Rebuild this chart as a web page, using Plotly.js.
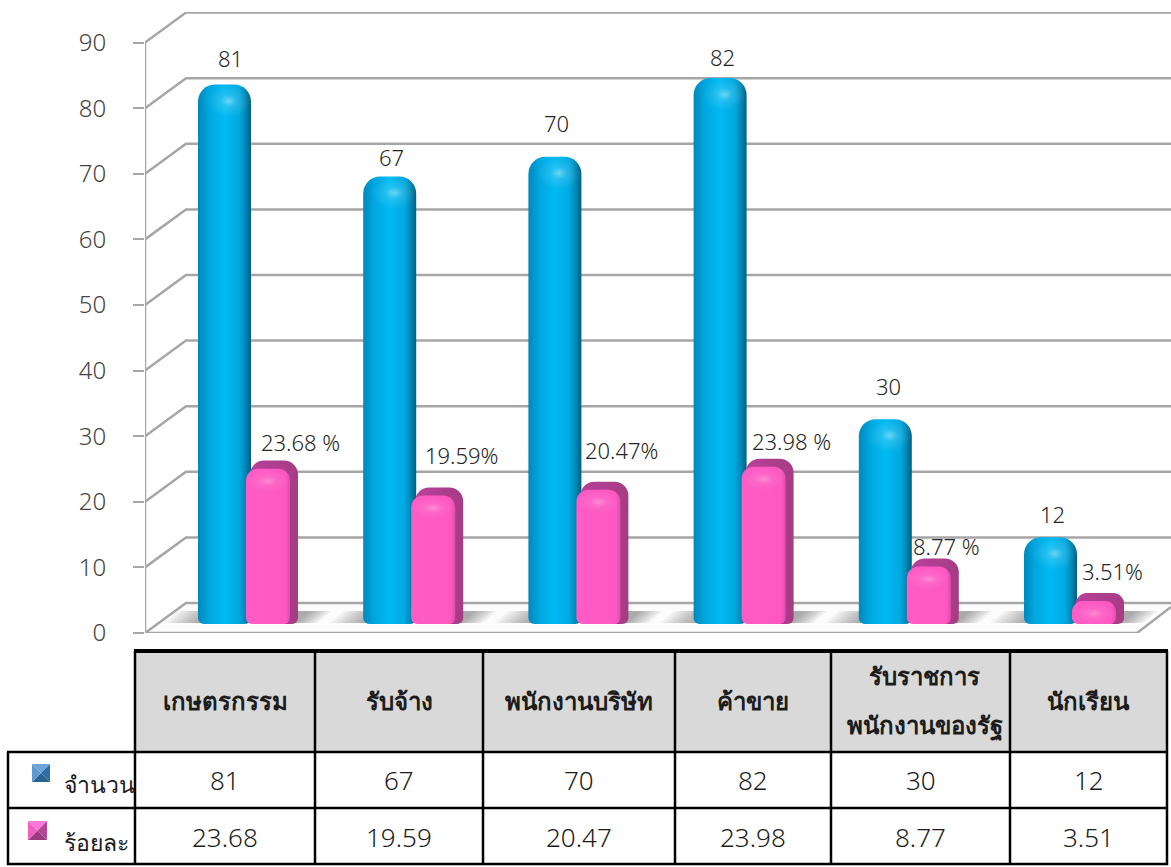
<!DOCTYPE html>
<html>
<head>
<meta charset="utf-8">
<script src="https://cdn.plot.ly/plotly-3.0.1.min.js"></script>
<style>html,body{margin:0;padding:0;background:#fff}</style>
</head>
<body>
<div id="chart" style="width:1171px;height:867px"></div>
<script>
// Occupation breakdown: respondent counts and their share of the total.
const categories = ['เกษตรกรรม', 'รับจ้าง', 'พนักงานบริษัท', 'ค้าขาย', 'รับราชการ<br>พนักงานของรัฐ', 'นักเรียน'];
const countValues = [81, 67, 70, 82, 30, 12];
const percentValues = [23.68, 19.59, 20.47, 23.98, 8.77, 3.51];
const percentLabels = ['23.68 %', '19.59%', '20.47%', '23.98 %', '8.77 %', '3.51%'];
const percentCells = ['23.68', '19.59', '20.47', '23.98', '8.77', '3.51'];
const seriesNames = ['จำนวน', 'ร้อยละ'];
const yTicks = [0, 10, 20, 30, 40, 50, 60, 70, 80, 90];

// Page-pixel layout
const W = 1171, H = 867;
const plotL = 145, plotT = 12, plotB = 633;
const groupPx = 165.2, firstCentrePx = 248;
const pxPerUnit = 6.56;
const xIdx = categories.map((_, i) => i);
const px2x = p => p / groupPx;
const px2y = p => p / pxPerUnit;
const xMin = (plotL - firstCentrePx) / groupPx;
const xMax = xMin + (W - plotL) / groupPx;
const yMax = (plotB - plotT) / pxPerUnit;
const depthX = px2x(41), depthY = px2y(30);
const topBase = 2.6, frontBase = 1.37;
const gridColour = '#a6a6a6';

const PX = p => p / W, PY = p => 1 - p / H;
const shapes = [], annotations = [];

// Floor plane
shapes.push({type: 'path', xref: 'x', yref: 'y', layer: 'below', line: {width: 0}, fillcolor: '#fcfcfc',
  path: `M ${xMin} 0 L ${xMin + depthX} ${depthY} L ${xMax} ${depthY} L ${xMax - px2x(34)} 0 Z`});

// Wall and floor grid lines, each running from the front edge to the back wall
yTicks.forEach(v => {
  shapes.push({type: 'path', xref: 'x', yref: 'y', layer: 'below', line: {color: gridColour, width: 2.5},
    path: `M ${xMin} ${v} L ${xMin + depthX} ${v + depthY} L ${xMax} ${v + depthY}`});
});
const frameLine = (x0, y0, x1, y1) => shapes.push({type: 'line', xref: 'x', yref: 'y', layer: 'below',
  line: {color: gridColour, width: 2.5}, x0, x1, y0, y1});
frameLine(xMin, 0, xMax - px2x(34), 0);
frameLine(xMax - px2x(34), 0, xMax, px2y(26));
frameLine(xMin, 0, xMin, 90);

// Soft floor shadow behind each group, built from nested translucent bands
xIdx.forEach(i => {
  for (let k = 0; k < 12; k++) {
    const x0 = i + px2x(-84 + k * 3), x1 = i + px2x(70 - k * 2);
    const y0 = px2y(10), y1 = px2y(22);
    shapes.push({type: 'path', xref: 'x', yref: 'y', layer: 'below', line: {width: 0},
      fillcolor: 'rgba(60,60,60,0.04)',
      path: `M ${x0} ${y0} L ${x0 + px2x(14)} ${y1} L ${x1 + px2x(14)} ${y1} L ${x1} ${y0} Z`});
  }
});

// Bars: body, square-ended foot and a soft highlight for each series.
// Plotly rounds both ends of a bar with a base, so a foot covers the lower corners.
const bar = (values, base, offPx, widthPx, radius, colour, name) => ({
  type: 'bar', x: xIdx, y: values, base: base, name: name,
  offset: px2x(offPx), width: px2x(widthPx),
  marker: {color: colour, line: {width: 0}, cornerradius: radius},
  hoverinfo: 'skip', showlegend: false
});
const footHeight = 4.13;
const foot = xIdx.map(() => footHeight);
const traces = [
  bar(countValues, topBase, -50, 53, 17, '#00b4ec', 'count'),
  bar(foot, frontBase, -50, 53, 6, '#00b4ec', 'count-foot'),
  bar(xIdx.map(() => 5), countValues.map(v => v + topBase - 5), -42, 46, 0, '#ffffff', 'count-glow'),
  bar(percentValues, topBase, 2, 48, 14, '#b03c8a', 'percent-back'),
  bar(foot, frontBase, 2, 48, 6, '#b03c8a', 'percent-back-foot'),
  bar(percentValues, frontBase, -2, 44, 12, '#ff5ac6', 'percent'),
  bar(xIdx.map(() => 2.4), frontBase, -2, 44, 6, '#ff5ac6', 'percent-foot'),
  bar(xIdx.map(() => 3.4), percentValues.map(v => v + frontBase - 3.6), -2, 44, 0, '#ffffff', 'percent-glow')
];

// Value labels above the bars
const labelFont = {family: 'Noto Sans, DejaVu Sans, sans-serif', size: 22, color: '#242424', weight: 300};
const countShift = [[-18, 26.6], [-22, 19.5], [-22, 33.8], [-21, 21], [-20, 33], [-22, 23]];
const pctShift = [[52, 18.7], [48, 32.5], [43, 31.7], [48, 17.7], [38, 12.5], [38, 22]];
xIdx.forEach(i => {
  annotations.push({xref: 'x', yref: 'y', x: i, y: countValues[i] + topBase, text: String(countValues[i]),
    showarrow: false, xshift: countShift[i][0], yshift: countShift[i][1], font: labelFont});
  annotations.push({xref: 'x', yref: 'y', x: i, y: percentValues[i] + topBase, text: percentLabels[i],
    showarrow: false, xshift: pctShift[i][0], yshift: pctShift[i][1], font: labelFont});
});

// Data table below the plot
const colEdges = [135, 315, 483, 675, 831, 1010, 1167];
const rule = (x0, y0, x1, y1, w) => shapes.push({type: 'line', xref: 'paper', yref: 'paper',
  x0: PX(x0), x1: PX(x1), y0: PY(y0), y1: PY(y1), line: {color: '#000', width: w}});
shapes.push({type: 'rect', xref: 'paper', yref: 'paper', x0: PX(135), x1: PX(1167), y0: PY(651), y1: PY(752),
  line: {width: 0}, fillcolor: '#d9d9d9'});
colEdges.forEach(x => rule(x, 651, x, 865, 2.5));
rule(134, 651, 1168, 651, 4);
rule(7, 752, 1168, 752, 2.5);
rule(7, 808, 1168, 808, 2.5);
rule(7, 864, 1168, 864, 2.5);
rule(8, 752, 8, 865, 2.5);

const tableFont = 'Noto Sans, DejaVu Sans, sans-serif';
const tableText = (cx, cy, text, size, bold, anchor, weight) => annotations.push({xref: 'paper', yref: 'paper',
  x: PX(cx), y: PY(cy), text: bold ? `<b>${text}</b>` : text, showarrow: false, xanchor: anchor || 'center', yanchor: 'middle',
  font: {family: tableFont, size: size, color: '#1c1c1c', weight: weight || (bold ? 700 : 300)}});
categories.forEach((c, i) => {
  const cx = (colEdges[i] + colEdges[i + 1]) / 2;
  const lines = c.split('<br>');
  lines.forEach((t, k) => tableText(cx + (lines.length > 1 ? 4 : 0), 700 + (k - (lines.length - 1) / 2) * 50, t, 24, true));
  tableText(cx, 780, String(countValues[i]), 26, false);
  tableText(cx, 837, percentCells[i], 26, false);
});
tableText(62, 784, seriesNames[0], 23, false, 'left', 400);
tableText(62, 842, seriesNames[1], 23, false, 'left', 400);

// Bevelled legend keys
const key = (x, y, s, cols) => {
  const cx = x + s / 2, cy = y + s / 2;
  const tri = [[x, y, x + s, y], [x + s, y, x + s, y + s], [x + s, y + s, x, y + s], [x, y + s, x, y]];
  tri.forEach((t, k) => shapes.push({type: 'path', xref: 'paper', yref: 'paper', line: {width: 0}, fillcolor: cols[k],
    path: `M ${PX(t[0])} ${PY(t[1])} L ${PX(t[2])} ${PY(t[3])} L ${PX(cx)} ${PY(cy)} Z`}));
};
key(32, 764, 18, ['#6aa6dc', '#2f6ea6', '#2b6490', '#5c9ad0']);
key(28, 821, 19, ['#ff7ad6', '#b84496', '#9a3a80', '#f060c0']);

const layout = {
  width: W, height: H, margin: {l: 0, r: 0, t: 0, b: 0, pad: 0},
  paper_bgcolor: '#fff', plot_bgcolor: 'rgba(0,0,0,0)',
  barmode: 'overlay', showlegend: false,
  xaxis: {domain: [plotL / W, 1], range: [xMin, xMax], showgrid: false, zeroline: false, showline: false,
    showticklabels: false, ticks: '', fixedrange: true},
  yaxis: {domain: [PY(plotB), PY(plotT)], range: [0, yMax], tickvals: yTicks, showgrid: false, zeroline: false,
    showline: false, ticks: 'outside', ticklen: 11, tickwidth: 2, tickcolor: gridColour, anchor: 'x', ticklabelstandoff: 22,
    tickfont: {family: 'Noto Sans, DejaVu Sans, sans-serif', size: 24, color: '#444', weight: 300}, fixedrange: true},
  shapes, annotations
};

// Body shading for the bars, keyed by trace position
const blueStops = [[0, '#0088bc'], [0.2, '#00a6de'], [0.5, '#00baf3'], [0.78, '#00a8e0'], [0.88, '#008cba'], [1, '#005f85']];
const backStops = [[0, '#b8409a'], [1, '#a63c84']];
const pinkStops = [[0, '#ff5cc6'], [0.9, '#fc58c0'], [1, '#e04cab']];
const shades = {
  0: {stops: blueStops}, 1: {stops: blueStops},
  2: {radial: true, stops: [[0, 'rgba(255,255,255,0.42)'], [0.35, 'rgba(255,255,255,0.14)'], [1, 'rgba(255,255,255,0)']]},
  3: {stops: backStops}, 4: {stops: backStops},
  5: {stops: pinkStops}, 6: {stops: pinkStops},
  7: {radial: true, stops: [[0, 'rgba(255,255,255,0.3)'], [0.4, 'rgba(255,255,255,0.08)'], [1, 'rgba(255,255,255,0)']]}
};
Plotly.newPlot('chart', traces, layout, {displayModeBar: false, staticPlot: true}).then(gd => {
  const svg = gd.querySelector('svg.main-svg');
  const defs = svg.querySelector('defs');
  const NS = 'http://www.w3.org/2000/svg';
  const layers = gd.querySelectorAll('.barlayer .trace');
  Object.keys(shades).forEach(k => {
    const s = shades[k];
    const g = document.createElementNS(NS, s.radial ? 'radialGradient' : 'linearGradient');
    g.setAttribute('id', 'bar-shade-' + k);
    if (!s.radial) { g.setAttribute('x1', '0'); g.setAttribute('x2', '1'); g.setAttribute('y1', '0'); g.setAttribute('y2', '0'); }
    s.stops.forEach(st => {
      const el = document.createElementNS(NS, 'stop');
      el.setAttribute('offset', st[0]);
      const m = /rgba\((.+),([\d.]+)\)/.exec(st[1]);
      if (m) { el.setAttribute('stop-color', `rgb(${m[1]})`); el.setAttribute('stop-opacity', m[2]); }
      else el.setAttribute('stop-color', st[1]);
      g.appendChild(el);
    });
    defs.appendChild(g);
    layers[k].querySelectorAll('path').forEach(p => { p.style.fill = `url(#bar-shade-${k})`; p.style.fillOpacity = 1; });
  });
});
</script>
</body>
</html>
